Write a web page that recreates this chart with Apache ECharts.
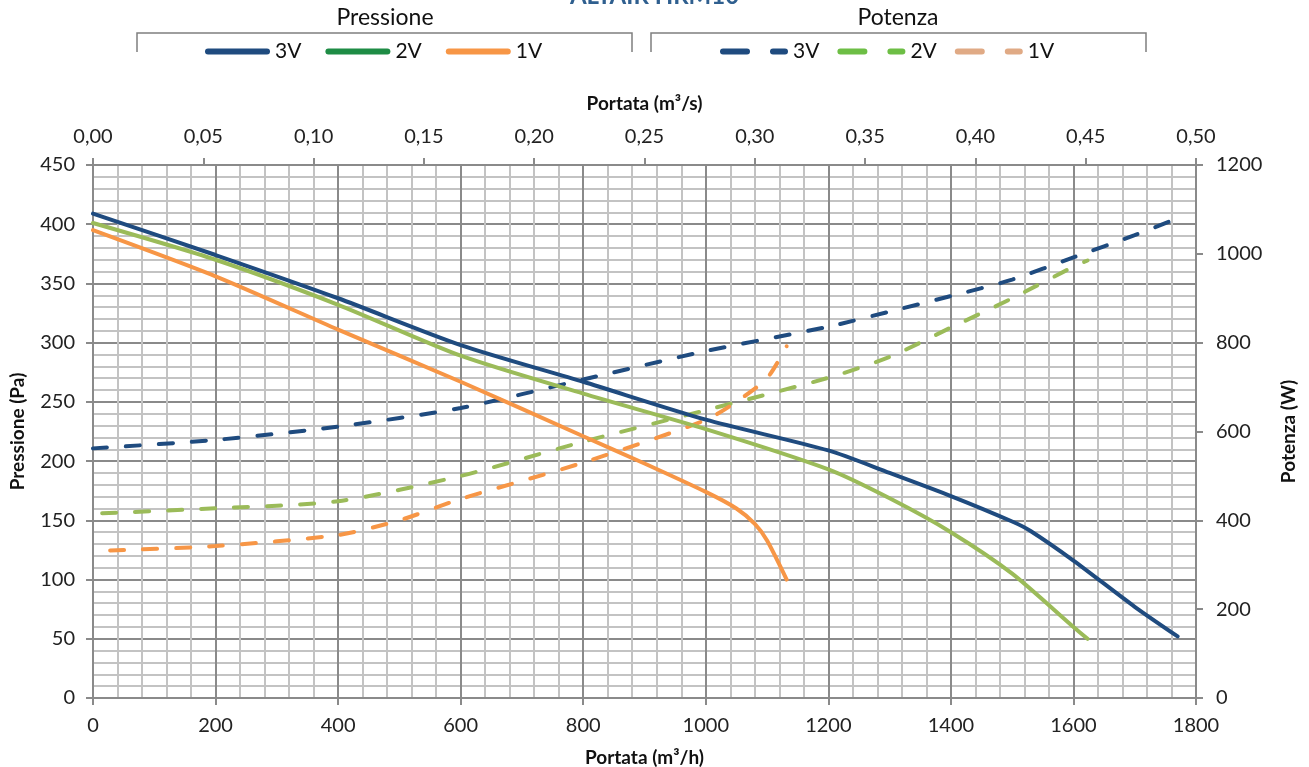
<!DOCTYPE html>
<html>
<head>
<meta charset="utf-8">
<script src="https://cdn.jsdelivr.net/npm/echarts@6/dist/echarts.min.js"></script>
<style>
html,body{margin:0;padding:0;background:#fff;}
#main{width:1309px;height:767px;}
</style>
</head>
<body>
<div id="main"></div>
<script>
// ---- Data (Portata m³/h, value) ----
const pressione3V = [[0,409],[200,374],[400,337.5],[600,298],[800,267],[1000,235],[1200,209],[1300,190],[1400,170.5],[1500,149],[1530,141],[1600,116],[1700,77],[1770,52]];
const pressione2V = [[0,401],[200,370],[400,332],[600,289],[800,257],[1000,227],[1200,193],[1300,168.6],[1400,140],[1500,105],[1600,60],[1623,50]];
const pressione1V = [[0,395],[200,356],[400,311],[600,267],[800,221],[900,198],[1000,174],[1050,160],[1080,147],[1100,133],[1132,100]];
const potenza3V = [[0,562],[200,581],[400,611],[600,653],[800,717],[1000,781],[1200,836],[1300,870],[1400,905],[1500,942],[1600,992],[1700,1042],[1770,1080]];
const potenza2V = [[15,416],[200,427],[400,443],[600,500],[800,577],[1000,648],[1200,721],[1300,768],[1400,834],[1500,900],[1600,971],[1623,985]];
const potenza1V = [[28,332],[200,342],[400,367],[500,400],[600,448],[800,530],[1000,626],[1050,667],[1100,720],[1132,792]];

const titleText = 'ALTAIR HRM10';
const legendLabels = ['3V','2V','1V'];

const FONT = 'Lato, "Noto Sans", sans-serif';
const C3 = '#1F4B7F', C2 = '#9BBB59', C1 = '#F79646';
const gridMajor = '#8A8A8A', gridMinor = '#C3C3C3', axisCol = '#8A8A8A';
const dash = [14, 19];
const ICON_SOLID = 'path://M3,0h59a3,3 0 0 1 0,6h-59a3,3 0 0 1 0,-6z';
const ICON_DASH = 'path://M3,0h24a3,3 0 0 1 0,6h-24a3,3 0 0 1 0,-6z M53,0h12a3,3 0 0 1 0,6h-12a3,3 0 0 1 0,-6z';

function solid(name, data, color) {
  return {name, type:'line', xAxisIndex:0, yAxisIndex:0, data, symbol:'none',
    smooth:0.25,
    lineStyle:{color, width:4, cap:'round'}, itemStyle:{color}, z:3};
}
function dashed(name, data, color) {
  return {name, type:'line', xAxisIndex:0, yAxisIndex:1, data, symbol:'none',
    smooth:0.25,
    lineStyle:{color, width:4, type:dash, cap:'round'}, itemStyle:{color}, z:2};
}
const nameStyle = {fontFamily:FONT, fontSize:19, fontWeight:'bold', color:'#111'};
const labelStyle = {fontFamily:FONT, fontSize:20, color:'#222'};

const chart = echarts.init(document.getElementById('main'), null, {renderer:'canvas'});
const fmt = n => n.split(' ')[1];
chart.setOption({
  animation:false,
  backgroundColor:'#fff',
  textStyle:{fontFamily:FONT},
  title:{text:titleText, left:'center', top:-21, padding:5,
    textStyle:{fontFamily:FONT, fontSize:24, fontWeight:'bold', color:'#2F5F8F'}},
  legend:[
    {left:205, top:41, padding:0, itemWidth:65, itemHeight:6, itemGap:24, formatter:fmt,
     textStyle:{fontFamily:FONT, fontSize:21, color:'#111'},
     data:[
       {name:'P '+legendLabels[0], icon:ICON_SOLID, itemStyle:{color:C3}},
       {name:'P '+legendLabels[1], icon:ICON_SOLID, itemStyle:{color:'#1E8C45'}},
       {name:'P '+legendLabels[2], icon:ICON_SOLID, itemStyle:{color:C1}}
     ]},
    {left:720, top:41, padding:0, itemWidth:68, itemHeight:6, itemGap:18, formatter:fmt,
     textStyle:{fontFamily:FONT, fontSize:21, color:'#111'},
     data:[
       {name:'W '+legendLabels[0], icon:ICON_DASH, itemStyle:{color:C3}},
       {name:'W '+legendLabels[1], icon:ICON_DASH, itemStyle:{color:'#6DBE45'}},
       {name:'W '+legendLabels[2], icon:ICON_DASH, itemStyle:{color:'#E0AA85'}}
     ]}
  ],
  graphic:[
    {type:'polyline', shape:{points:[[137,52],[137,33],[632,33],[632,52]]}, style:{stroke:'#7F7F7F', lineWidth:1.5, fill:null}},
    {type:'polyline', shape:{points:[[651,52],[651,33],[1146,33],[1146,52]]}, style:{stroke:'#7F7F7F', lineWidth:1.5, fill:null}},
    {type:'text', x:385, y:18, style:{text:'Pressione', font:'23px '+FONT, fill:'#111', textAlign:'center', textVerticalAlign:'middle'}},
    {type:'text', x:898, y:18, style:{text:'Potenza', font:'23px '+FONT, fill:'#111', textAlign:'center', textVerticalAlign:'middle'}}
  ],
  grid:{left:93, right:113, top:165, bottom:69, containLabel:false, outerBoundsMode:'none'},
  xAxis:[
    {type:'value', position:'bottom', min:0, max:1800, interval:200,
     name:'Portata (m³/h)', nameLocation:'middle', nameGap:50, nameTextStyle:nameStyle,
     axisLine:{show:true, onZero:false, lineStyle:{color:axisCol, width:2}},
     axisTick:{show:true, length:7, lineStyle:{color:axisCol, width:2}},
     axisLabel:Object.assign({margin:18, formatter:v => String(v)}, labelStyle),
     splitLine:{show:true, lineStyle:{color:gridMajor, width:2}},
     minorTick:{show:false, splitNumber:5},
     minorSplitLine:{show:true, lineStyle:{color:gridMinor, width:2}}},
    {type:'value', position:'top', min:0, max:0.5, interval:0.05,
     name:'Portata (m³/s)', nameLocation:'middle', nameGap:52, nameTextStyle:nameStyle,
     axisLine:{show:true, onZero:false, lineStyle:{color:axisCol, width:2}},
     axisTick:{show:true, length:7, lineStyle:{color:axisCol, width:2}},
     axisLabel:Object.assign({margin:18, formatter:v => v.toFixed(2).replace('.', ',')}, labelStyle),
     splitLine:{show:false}}
  ],
  yAxis:[
    {type:'value', position:'left', min:0, max:450, interval:50,
     name:'Pressione (Pa)', nameLocation:'middle', nameGap:66, nameRotate:90, nameTextStyle:nameStyle,
     axisLine:{show:true, onZero:false, lineStyle:{color:axisCol, width:2}},
     axisTick:{show:true, length:7, lineStyle:{color:axisCol, width:2}},
     axisLabel:Object.assign({margin:18, formatter:v => String(v)}, labelStyle),
     splitLine:{show:true, lineStyle:{color:gridMajor, width:2}},
     minorTick:{show:false, splitNumber:5},
     minorSplitLine:{show:true, lineStyle:{color:gridMinor, width:2}}},
    {type:'value', position:'right', min:0, max:1200, interval:200,
     name:'Potenza (W)', nameLocation:'middle', nameGap:83, nameRotate:90, nameTextStyle:nameStyle,
     axisLine:{show:true, onZero:false, lineStyle:{color:axisCol, width:2}},
     axisTick:{show:true, length:7, lineStyle:{color:axisCol, width:2}},
     axisLabel:Object.assign({margin:20, formatter:v => String(v)}, labelStyle),
     splitLine:{show:false}}
  ],
  series:[
    dashed('W 3V', potenza3V, C3),
    dashed('W 2V', potenza2V, C2),
    dashed('W 1V', potenza1V, C1),
    solid('P 3V', pressione3V, C3),
    solid('P 2V', pressione2V, C2),
    solid('P 1V', pressione1V, C1)
  ]
});
</script>
</body>
</html>
